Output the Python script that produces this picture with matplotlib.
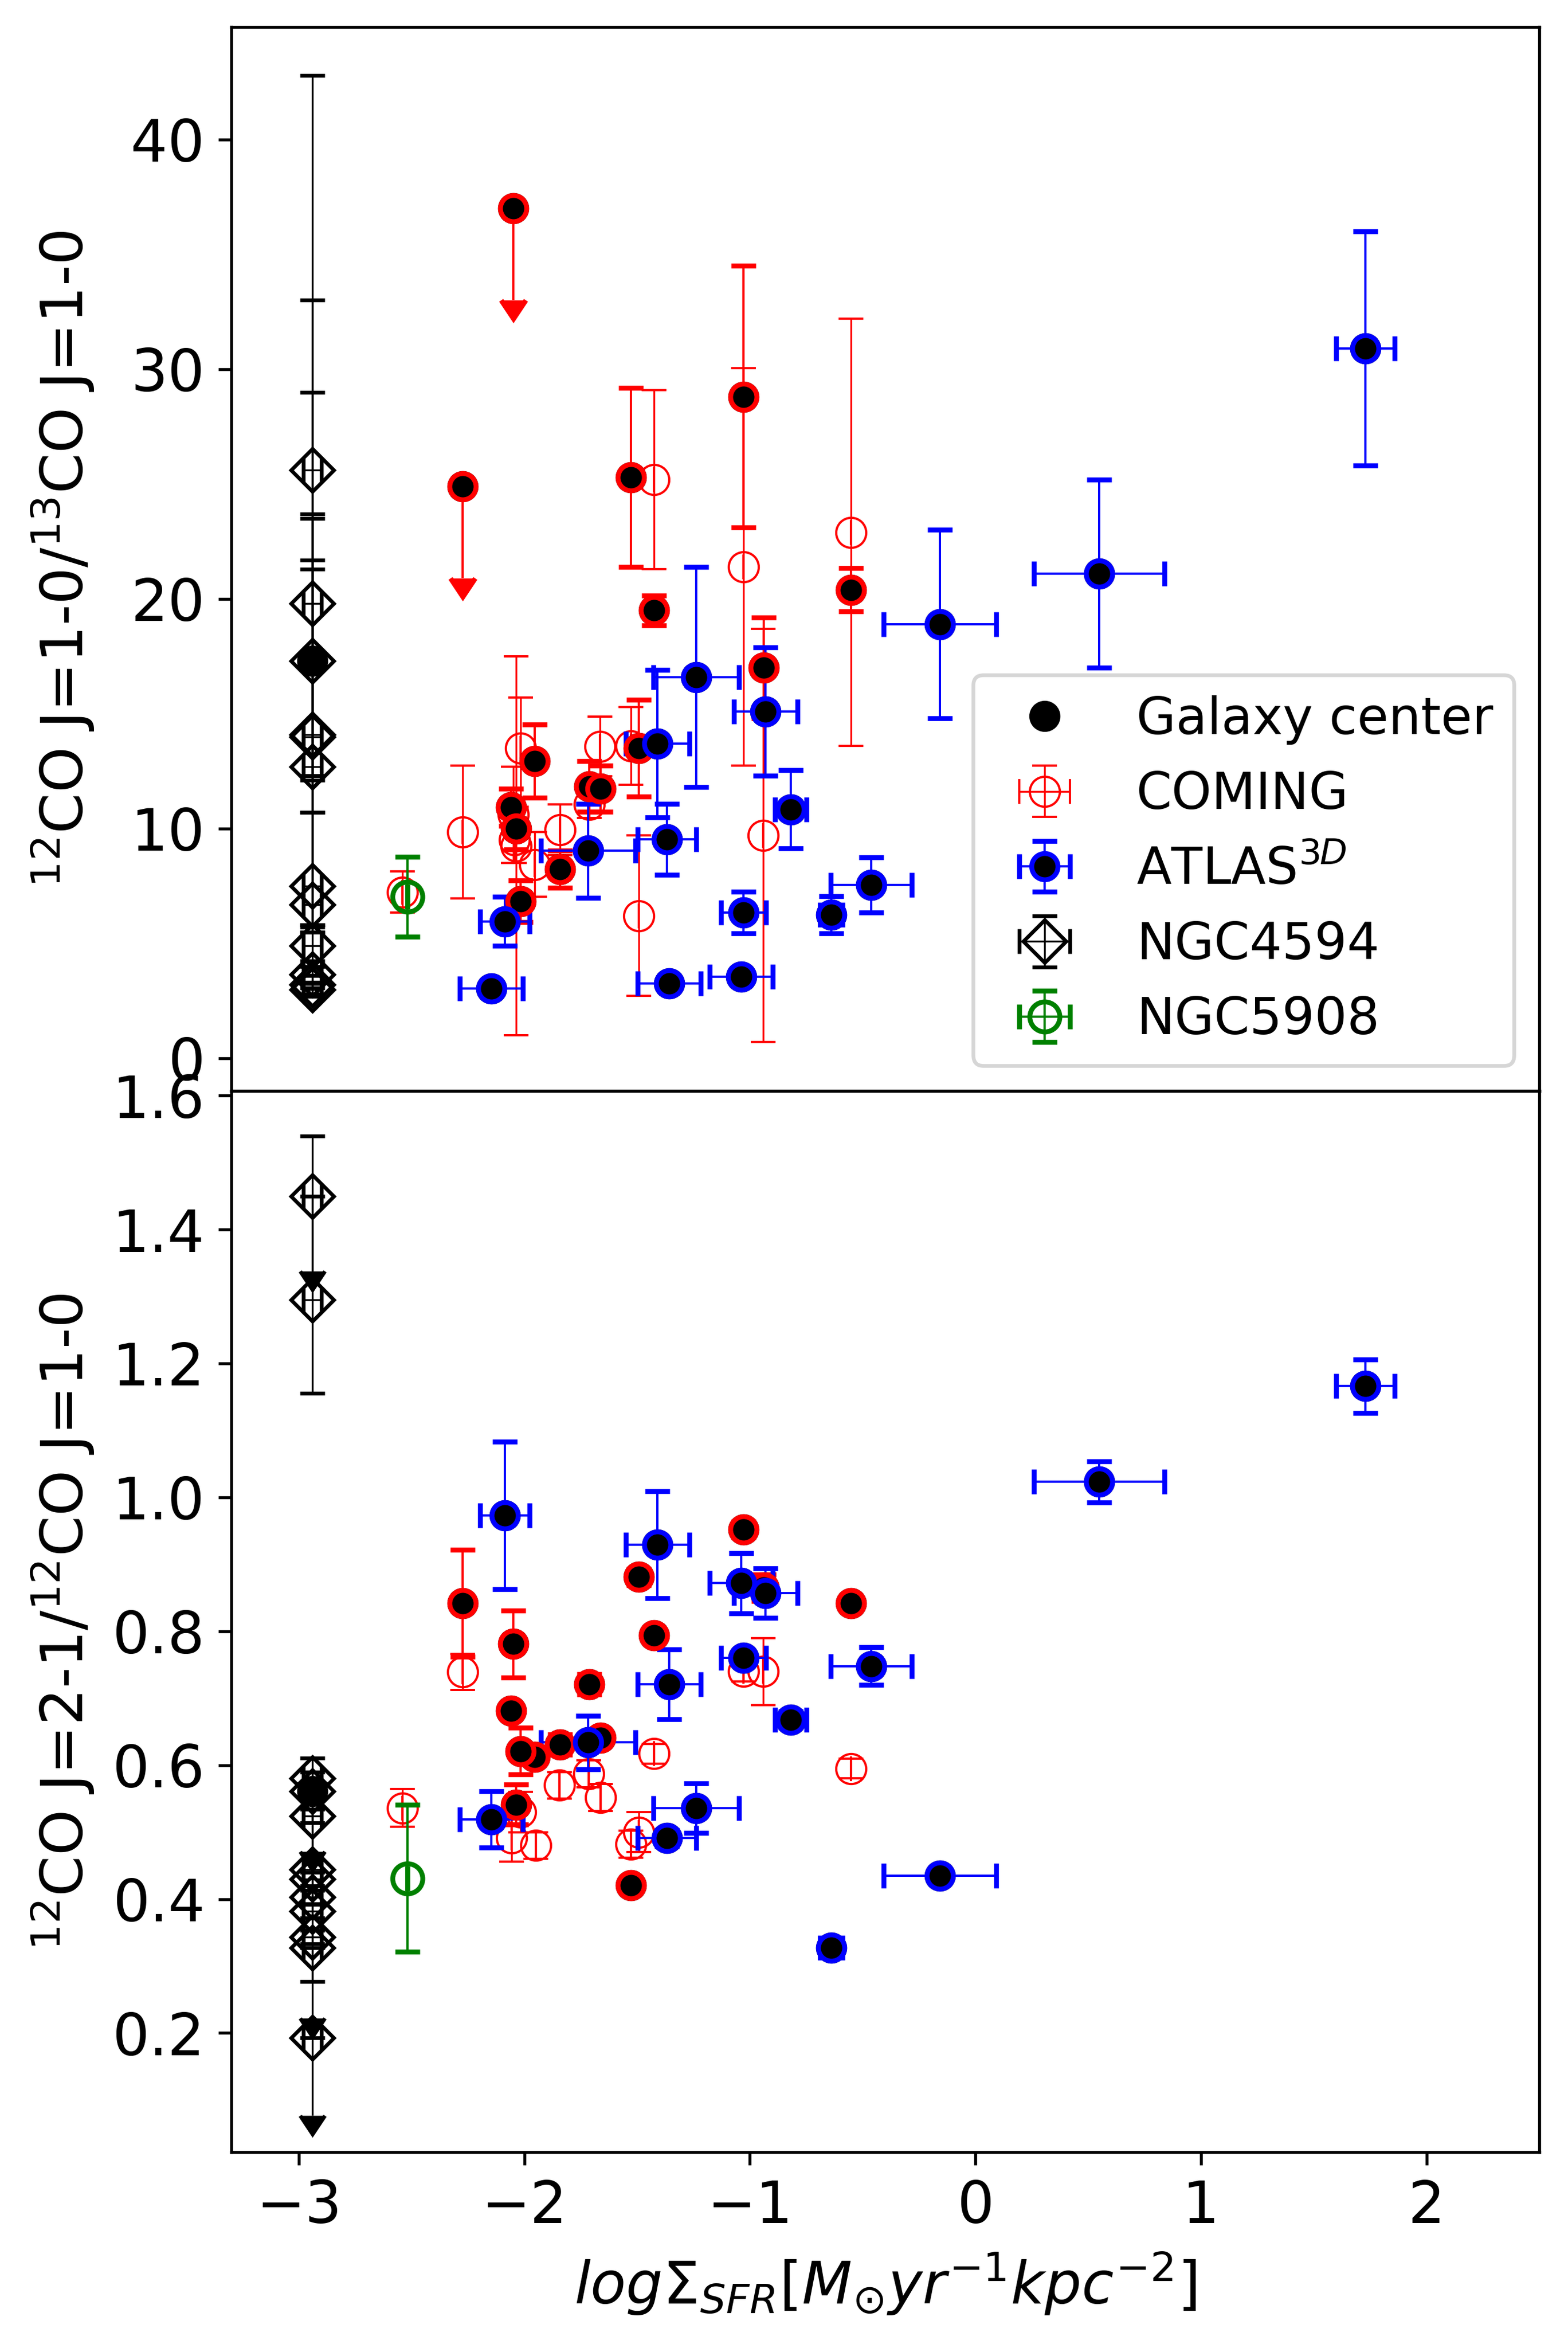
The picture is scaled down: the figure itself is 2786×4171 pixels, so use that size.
import numpy as np
import matplotlib
matplotlib.use('Agg')
import matplotlib.pyplot as plt

# ==================== data ====================
# COMING galaxies, whole-disk values (open red circles)
coming_x_top = [-2.274, -2.036, -2.017, -2.050, -2.045, -1.953, -1.843, -1.712,
                -1.664, -1.527, -1.492, -1.425, -1.028, -0.940, -0.553, -2.540]
coming_y_top = [9.85, 9.25, 13.5, 10.6, 9.5, 8.44, 9.94, 11.06,
                13.57, 13.6, 6.21, 25.2, 21.4, 9.7, 22.9, 7.24]
coming_ey_top = [2.9, 8.25, 2.2, 2.1, 1.0, 1.4, 1.1, 0.6,
                 1.3, 1.7, 3.5, 3.9, 8.65, 9.0, 9.3, 0.9]

coming_x_bot = [-2.274, -2.540, -2.056, -2.016, -1.950, -1.844, -1.715,
                -1.662, -1.425, -1.493, -1.528, -1.028, -0.940, -0.553]
coming_y_bot = [0.739, 0.536, 0.491, 0.530, 0.480, 0.570, 0.587,
                0.552, 0.617, 0.500, 0.482, 0.740, 0.740, 0.595]
coming_ey_bot = [0.027, 0.028, 0.035, 0.030, 0.020, 0.020, 0.020,
                 0.020, 0.015, 0.030, 0.020, 0.015, 0.050, 0.015]

# COMING galaxy centers (red edge)
cen_x = [-2.048, -2.274, -1.528, -1.028, -1.425, -0.553, -0.939, -1.953,
         -2.058, -2.036, -2.016, -1.843, -1.712, -1.662, -1.493]
cen_y_top = [37.0, 24.9, 25.3, 28.8, 19.5, 20.4, 17.0, 12.94,
             10.93, 10.0, 6.84, 8.23, 11.84, 11.74, 13.5]
cen_ey_top = [4.0, 4.0, 3.9, 5.7, 0.65, 0.95, 2.2, 1.6,
              0.8, 0.9, 0.9, 0.8, 1.1, 1.0, 2.1]
cen_ul_top = [True, True] + [False] * 13
cen_y_bot = [0.781, 0.842, 0.421, 0.952, 0.794, 0.842, 0.865, 0.612,
             0.681, 0.541, 0.621, 0.631, 0.721, 0.641, 0.881]
cen_ey_bot = [0.05, 0.08, 0.01, 0.012, 0.01, 0.01, 0.02, 0.01,
              0.01, 0.03, 0.035, 0.015, 0.015, 0.01, 0.012]

# ATLAS3D galaxies (blue edge)
atl_x = [1.728, 0.549, -0.158, -1.238, -0.930, -1.409, -0.819, -1.717,
         -1.367, -2.087, -1.028, -0.638, -0.462, -2.147, -1.358, -1.038]
atl_ex = [0.13, 0.29, 0.25, 0.19, 0.14, 0.14, 0.07, 0.21,
          0.13, 0.11, 0.10, 0.05, 0.18, 0.14, 0.14, 0.14]
atl_y_top = [30.9, 21.1, 18.9, 16.6, 15.1, 13.7, 10.84, 9.03,
             9.53, 5.96, 6.35, 6.25, 7.55, 3.04, 3.25, 3.54]
atl_ey_top = [5.1, 4.1, 4.1, 4.8, 2.8, 3.2, 1.7, 2.05,
              1.55, 1.07, 0.9, 0.8, 1.2, 0.2, 0.2, 0.2]
atl_y_bot = [1.166, 1.023, 0.435, 0.536, 0.857, 0.929, 0.668, 0.634,
             0.491, 0.973, 0.760, 0.327, 0.748, 0.519, 0.721, 0.872]
atl_ey_bot = [0.04, 0.031, 0.008, 0.037, 0.037, 0.08, 0.012, 0.04,
              0.012, 0.11, 0.01, 0.006, 0.028, 0.042, 0.052, 0.045]

# NGC4594 (diamonds)
n4594_x = -2.94
n4594_ex = 0.04
n4594_y_top = [25.6, 19.8, 17.3, 14.1, 14.0, 12.7, 7.5, 6.7, 4.9, 3.65, 3.2, 3.0]
n4594_elo_top = [13.3, 9.1, 11.8, 8.6, 1.9, 0.4, 1.7, 1.0, 0.9, 0.6, 0.4, 0.3]
n4594_ehi_top = [17.2, 13.2, 11.7, 9.6, 9.5, 9.0, 13.8, 4.0, 0.9, 0.6, 0.4, 0.3]
n4594_y_bot = [1.45, 1.295, 0.580, 0.561, 0.524, 0.444, 0.430, 0.403, 0.382, 0.343, 0.327, 0.193]
n4594_elo_bot = [0.112, 0.14, 0.01, 0.09, 0.01, 0.167, 0.01, 0.01, 0.01, 0.01, 0.105, 0.116]
n4594_ehi_bot = [0.0, 0.245, 0.01, 0.0, 0.01, 0.167, 0.01, 0.01, 0.01, 0.01, 0.0, 0.0]
n4594_ul_bot = [True, False, False, True, False, False, False, False, False, False, True, True]
n4594_cen_top = 17.3
n4594_cen_bot = 0.561

# NGC5908
n5908_x = -2.519
n5908_y_top, n5908_ey_top = 7.03, 1.73
n5908_y_bot, n5908_ey_bot = 0.431, 0.11

# ==================== figure ====================
W, H, DPI = 2786, 4171, 480
fig = plt.figure(figsize=(W / DPI, H / DPI), dpi=DPI)
ax1 = fig.add_axes([0.1474, 0.5354, 0.8343, 0.4531])
ax2 = fig.add_axes([0.1474, 0.0834, 0.8343, 0.4520], sharex=ax1)

CAP = 3.3


def solid_limits(container, color):
    # make upper-limit arrows solid in the errorbar colour
    for cl in container.lines[1]:
        cl.set_markerfacecolor(color)
        cl.set_markeredgecolor(color)


def draw_panel(ax, cx, cy, cey, ceny, ceney, cenul, atly, atley,
               ny, nelo, nehi, nul, ncen, gy, gey):
    h_com = ax.errorbar(cx, cy, yerr=cey, xerr=0, fmt='o', ms=8, mfc='none', mec='r',
                        mew=0.6, ecolor='r', elinewidth=0.5, capsize=CAP, capthick=0.5,
                        zorder=2, label='COMING')
    h_cen = ax.errorbar(cen_x, ceny, yerr=ceney, uplims=cenul, fmt='o', ms=7, mfc='k',
                        mec='r', mew=1.3, ecolor='r', elinewidth=0.6, capsize=CAP,
                        capthick=1.2, zorder=3)
    solid_limits(h_cen, 'r')
    h_atl = ax.errorbar(atl_x, atly, xerr=atl_ex, yerr=atley, fmt='o', ms=7, mfc='k', mec='b',
                        mew=1.3, ecolor='b', elinewidth=0.6, capsize=CAP, capthick=1.2,
                        zorder=3, label='ATLAS$^{3D}$')
    h_n = ax.errorbar([n4594_x] * len(ny), ny, xerr=n4594_ex, yerr=[nelo, nehi], uplims=nul,
                      fmt='D', ms=8, mfc='none', mec='k', mew=1.0, ecolor='k',
                      elinewidth=0.5, capsize=CAP, capthick=1.1, zorder=3, label='NGC4594')
    solid_limits(h_n, 'k')
    h_g = ax.errorbar([n5908_x], [gy], yerr=[gey], xerr=0, fmt='o', ms=8, mfc='none', mec='g',
                      mew=1.3, ecolor='g', elinewidth=0.6, capsize=CAP, capthick=1.2,
                      zorder=3, label='NGC5908')
    # galaxy centers: black dots
    h_c, = ax.plot(cen_x + atl_x + [n4594_x], list(ceny) + list(atly) + [ncen], 'o',
                   color='k', ms=8.3, mew=0, zorder=2.5, label='Galaxy center')
    return [h_c, h_com, h_atl, h_n, h_g]


handles = draw_panel(ax1, coming_x_top, coming_y_top, coming_ey_top,
                     cen_y_top, cen_ey_top, cen_ul_top, atl_y_top, atl_ey_top,
                     n4594_y_top, n4594_elo_top, n4594_ehi_top, False, n4594_cen_top,
                     n5908_y_top, n5908_ey_top)
draw_panel(ax2, coming_x_bot, coming_y_bot, coming_ey_bot,
           cen_y_bot, cen_ey_bot, False, atl_y_bot, atl_ey_bot,
           n4594_y_bot, n4594_elo_bot, n4594_ehi_bot, n4594_ul_bot, n4594_cen_bot,
           n5908_y_bot, n5908_ey_bot)

ax1.legend(handles=handles, loc='lower right', fontsize=13.6)

ax1.set_xlim(-3.3, 2.5)
ax1.set_ylim(-1.42, 44.9)
ax2.set_ylim(0.022, 1.607)
ax1.set_xticks([-3, -2, -1, 0, 1, 2])
ax1.set_yticks([0, 10, 20, 30, 40])
ax2.set_yticks([0.2, 0.4, 0.6, 0.8, 1.0, 1.2, 1.4, 1.6])
ax1.tick_params(labelbottom=False, labelsize=15.5)
ax2.tick_params(labelsize=15.5)

ax1.set_ylabel(r'$^{12}$CO J=1-0/$^{13}$CO J=1-0', fontsize=15.5)
ax2.set_ylabel(r'$^{12}$CO J=2-1/$^{12}$CO J=1-0', fontsize=15.5)
ax2.set_xlabel(r'$log\Sigma_{SFR}[M_{\odot}yr^{-1}kpc^{-2}]$', fontsize=15.5)
ax1.yaxis.set_label_coords(-0.103, 0.5)
ax2.yaxis.set_label_coords(-0.103, 0.5)

fig.savefig('out.png', dpi=DPI)
